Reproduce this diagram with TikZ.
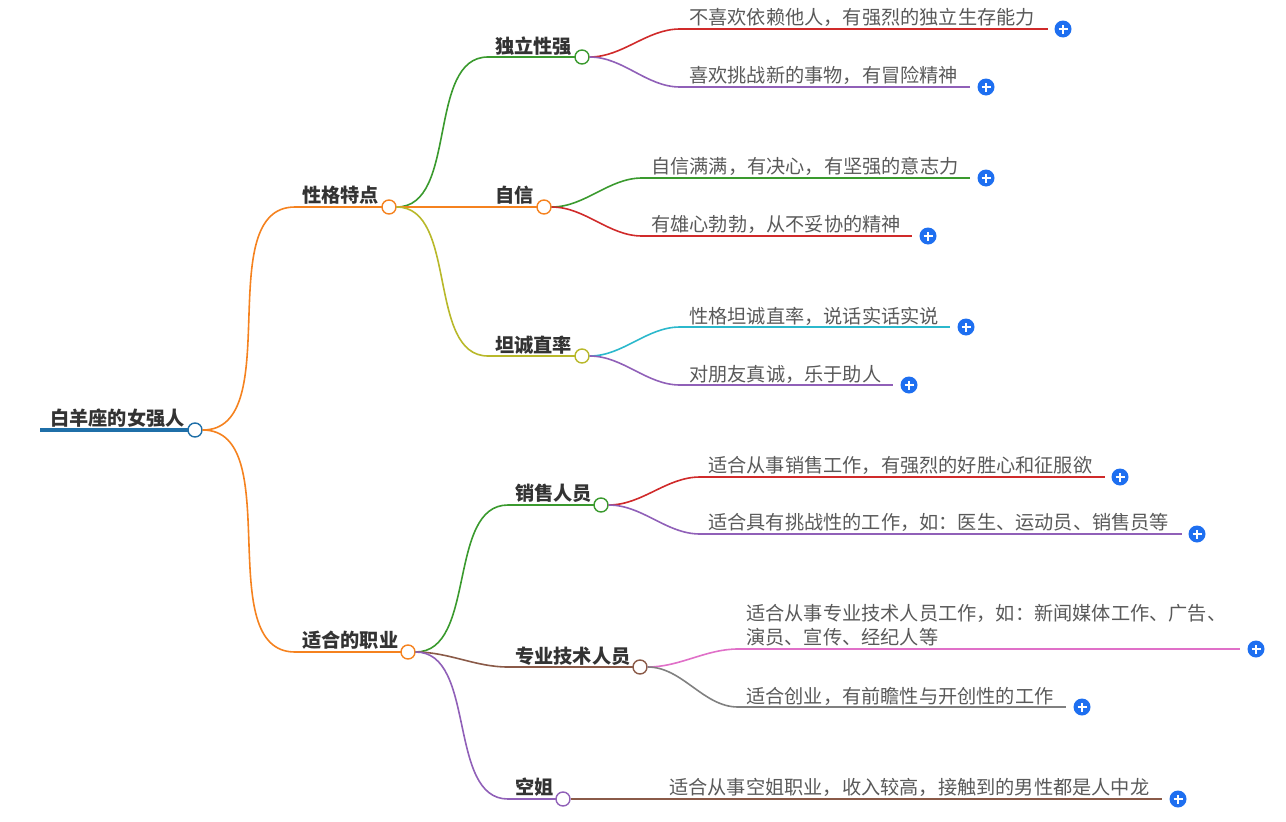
\documentclass[tikz,border=0pt]{standalone}
\usepackage{fontspec}
\newfontfamily\cjk{Noto Sans CJK SC}
\definecolor{cor}{HTML}{F5821F}
\definecolor{cgr}{HTML}{3A9A2E}
\definecolor{col}{HTML}{B8B82A}
\definecolor{cred}{HTML}{D02A2A}
\definecolor{cpu}{HTML}{9060B8}
\definecolor{ccy}{HTML}{2BB8CC}
\definecolor{cbr}{HTML}{8A5A48}
\definecolor{cpk}{HTML}{E070C8}
\definecolor{cgy}{HTML}{808080}
\definecolor{cbl}{HTML}{1F6FA8}
\definecolor{cplus}{HTML}{1E6FF0}
\tikzset{
 hd/.style={anchor=west,inner sep=0pt,font=\cjk\bfseries\fontsize{19.2}{19}\selectfont,text=black!80},
 lf/.style={anchor=west,inner sep=0pt,font=\cjk\fontsize{19.2}{24}\selectfont,text=black!65,align=left},
 dot/.style={circle,draw=#1,fill=white,line width=1.4pt,minimum size=14pt,inner sep=0pt},
 ln/.style={line width=1.6pt,#1},
 pl/.style={circle,fill=cplus,minimum size=17pt,inner sep=0pt,path picture={\draw[white,line width=1.6pt] ([xshift=-4.5pt]path picture bounding box.center)--([xshift=4.5pt]path picture bounding box.center) ([yshift=-4.5pt]path picture bounding box.center)--([yshift=4.5pt]path picture bounding box.center);}},
}
\newcommand{\cv}[3]{\draw[ln=#1] (#2) to[out=0,in=180,looseness=0.9] (#3);}
\begin{document}
\begin{tikzpicture}[x=1pt,y=-1pt]
\useasboundingbox (0,0) rectangle (1286,822);
% root
\node[hd] (r) at (50,418) {白羊座的女强人};
\draw[line width=4pt,cbl] (40,430) -- (188,430);
\node[dot=cbl] (rc) at (195,430) {};
% level 1
\node[hd] (a) at (302,195) {性格特点};
\coordinate (as) at (295,207);
\draw[ln=cor] (as) -- (382,207);
\node[dot=cor] (ac) at (389,207) {};
\node[hd] (b) at (302,640) {适合的职业};
\coordinate (bs) at (295,652);
\draw[ln=cor] (bs) -- (401,652);
\node[dot=cor] (bc) at (408,652) {};
\cv{cor}{rc.east}{as}
\cv{cor}{rc.east}{bs}
% level 2 under a
\node[hd] (a1) at (495,46) {独立性强};
\coordinate (a1s) at (488,57);
\draw[ln=cgr] (a1s) -- (575,57);
\node[dot=cgr] (a1c) at (582,57) {};
\cv{cgr}{ac.east}{a1s}
\node[hd] (a2) at (495,195) {自信};
\draw[ln=cor] (ac.east) -- (537,207);
\node[dot=cor] (a2c) at (544,207) {};
\node[hd] (a3) at (495,345) {坦诚直率};
\coordinate (a3s) at (488,356);
\draw[ln=col] (a3s) -- (575,356);
\node[dot=col] (a3c) at (582,356) {};
\cv{col}{ac.east}{a3s}
% level 2 under b
\node[hd] (b1) at (515,493) {销售人员};
\coordinate (b1s) at (508,505);
\draw[ln=cgr] (b1s) -- (594,505);
\node[dot=cgr] (b1c) at (601,505) {};
\cv{cgr}{bc.east}{b1s}
\node[hd] (b2) at (515,656) {专业技术人员};
\coordinate (b2s) at (508,667);
\draw[ln=cbr] (b2s) -- (633,667);
\node[dot=cbr] (b2c) at (640,667) {};
\cv{cbr}{bc.east}{b2s}
\node[hd] (b3) at (515,787) {空姐};
\coordinate (b3s) at (508,799);
\draw[ln=cpu] (b3s) -- (556,799);
\node[dot=cpu] (b3c) at (563,799) {};
\cv{cpu}{bc.east}{b3s}
% leaves
\node[lf] (l1) at (689,17) {不喜欢依赖他人，有强烈的独立生存能力};
\coordinate (l1s) at (680,29); \draw[ln=cred] (l1s) -- (1048,29); \node[pl] (p1) at (1063,29) {};
\cv{cred}{a1c.east}{l1s}
\node[lf] (l2) at (689,75) {喜欢挑战新的事物，有冒险精神};
\coordinate (l2s) at (680,87); \draw[ln=cpu] (l2s) -- (970,87); \node[pl] (p2) at (986,87) {};
\cv{cpu}{a1c.east}{l2s}
\node[lf] (l3) at (651,166) {自信满满，有决心，有坚强的意志力};
\coordinate (l3s) at (642,178); \draw[ln=cgr] (l3s) -- (970,178); \node[pl] (p3) at (986,178) {};
\cv{cgr}{a2c.east}{l3s}
\node[lf] (l4) at (651,224) {有雄心勃勃，从不妥协的精神};
\coordinate (l4s) at (642,236); \draw[ln=cred] (l4s) -- (912,236); \node[pl] (p4) at (928,236) {};
\cv{cred}{a2c.east}{l4s}
\node[lf] (l5) at (689,316) {性格坦诚直率，说话实话实说};
\coordinate (l5s) at (680,327); \draw[ln=ccy] (l5s) -- (950,327); \node[pl] (p5) at (966,327) {};
\cv{ccy}{a3c.east}{l5s}
\node[lf] (l6) at (689,374) {对朋友真诚，乐于助人};
\coordinate (l6s) at (680,385); \draw[ln=cpu] (l6s) -- (893,385); \node[pl] (p6) at (909,385) {};
\cv{cpu}{a3c.east}{l6s}
\node[lf] (l7) at (708,465) {适合从事销售工作，有强烈的好胜心和征服欲};
\coordinate (l7s) at (700,477); \draw[ln=cred] (l7s) -- (1105,477); \node[pl] (p7) at (1120,477) {};
\cv{cred}{b1c.east}{l7s}
\node[lf] (l8) at (708,522) {适合具有挑战性的工作，如：医生、运动员、销售员等};
\coordinate (l8s) at (700,534); \draw[ln=cpu] (l8s) -- (1182,534); \node[pl] (p8) at (1197,534) {};
\cv{cpu}{b1c.east}{l8s}
\node[lf] (l9) at (746,625) {适合从事专业技术人员工作，如：新闻媒体工作、广告、\\演员、宣传、经纪人等};
\coordinate (l9s) at (738,649); \draw[ln=cpk] (l9s) -- (1240,649); \node[pl] (p9) at (1256,649) {};
\cv{cpk}{b2c.east}{l9s}
\node[lf] (l10) at (746,696) {适合创业，有前瞻性与开创性的工作};
\coordinate (l10s) at (738,707); \draw[ln=cgy] (l10s) -- (1066,707); \node[pl] (p10) at (1082,707) {};
\cv{cgy}{b2c.east}{l10s}
\node[lf] (l11) at (669,787) {适合从事空姐职业，收入较高，接触到的男性都是人中龙};
\draw[ln=cbr] (b3c.east) -- (1162,799); \node[pl] (p11) at (1178,799) {};
\end{tikzpicture}
\end{document}
